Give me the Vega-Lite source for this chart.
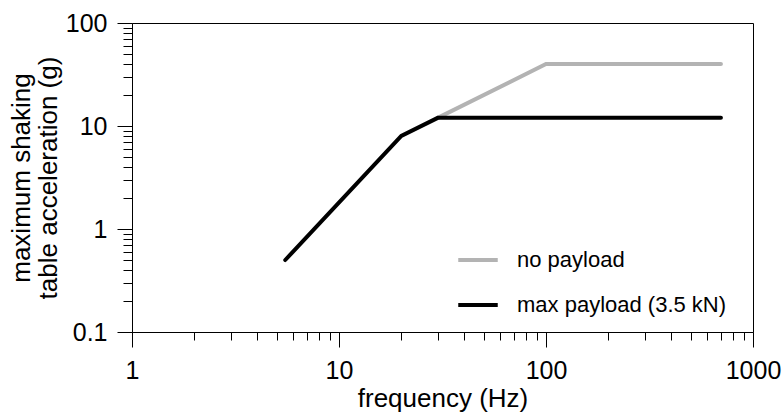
{
  "$schema": "https://vega.github.io/schema/vega-lite/v6.json",
  "width": 621,
  "height": 309,
  "autosize": {"type": "none"},
  "padding": {"left": 132, "top": 23, "right": 31, "bottom": 85},
  "background": "white",
  "config": {
    "view": {"stroke": "black", "strokeWidth": 1},
    "font": "Liberation Sans",
    "axis": {
      "grid": false,
      "domainColor": "black",
      "domainWidth": 1,
      "tickColor": "black",
      "tickWidth": 1,
      "labelColor": "black",
      "titleColor": "black",
      "labelFont": "Liberation Sans",
      "titleFont": "Liberation Sans",
      "labelFontSize": 25,
      "titleFontSize": 26,
      "titleFontWeight": "normal",
      "labelOverlap": false,
      "labelFlush": false
    },
    "legend": {
      "labelFont": "Liberation Sans",
      "labelFontSize": 22,
      "labelColor": "black",
      "labelLimit": 0
    }
  },
  "data": {
    "values": [
      {"series": "no payload", "f": 30, "a": 12},
      {"series": "no payload", "f": 100, "a": 40},
      {"series": "no payload", "f": 700, "a": 40},
      {"series": "max payload (3.5 kN)", "f": 5.5, "a": 0.5},
      {"series": "max payload (3.5 kN)", "f": 20, "a": 8},
      {"series": "max payload (3.5 kN)", "f": 30, "a": 12},
      {"series": "max payload (3.5 kN)", "f": 700, "a": 12}
    ]
  },
  "mark": {"type": "line", "strokeWidth": 4, "strokeCap": "round", "strokeJoin": "miter"},
  "encoding": {
    "x": {
      "field": "f",
      "type": "quantitative",
      "scale": {"type": "log", "domain": [1, 1000], "nice": false},
      "axis": {
        "title": "frequency (Hz)",
        "values": [1,2,3,4,5,6,7,8,9,10,20,30,40,50,60,70,80,90,100,200,300,400,500,600,700,800,900,1000],
        "labelExpr": "indexof([1,10,100,1000], datum.value) >= 0 ? format(datum.value, '~g') : ''",
        "tickSize": {"condition": {"test": "indexof([1,10,100,1000], datum.value) >= 0", "value": 15}, "value": 8},
        "labelPadding": 11,
        "titlePadding": 2
      }
    },
    "y": {
      "field": "a",
      "type": "quantitative",
      "scale": {"type": "log", "domain": [0.1, 100], "nice": false},
      "axis": {
        "title": ["maximum shaking", "table acceleration (g)"],
        "titleLineHeight": 27,
        "values": [0.1,0.2,0.3,0.4,0.5,0.6,0.7,0.8,0.9,1,2,3,4,5,6,7,8,9,10,20,30,40,50,60,70,80,90,100],
        "labelExpr": "indexof([0.1,1,10,100], datum.value) >= 0 ? format(datum.value, '~g') : ''",
        "tickSize": {"condition": {"test": "indexof([0.1,1,10,100], datum.value) >= 0", "value": 15}, "value": 9},
        "labelPadding": 10,
        "titlePadding": 4
      }
    },
    "color": {
      "field": "series",
      "type": "nominal",
      "scale": {"domain": ["no payload", "max payload (3.5 kN)"], "range": ["#b3b3b3", "#000000"]},
      "legend": {
        "title": null,
        "orient": "none",
        "legendX": 324,
        "legendY": 215,
        "symbolType": "stroke",
        "symbolStrokeWidth": 4,
        "symbolSize": 1560,
        "rowPadding": 12,
        "labelOffset": 17
      }
    }
  }
}
